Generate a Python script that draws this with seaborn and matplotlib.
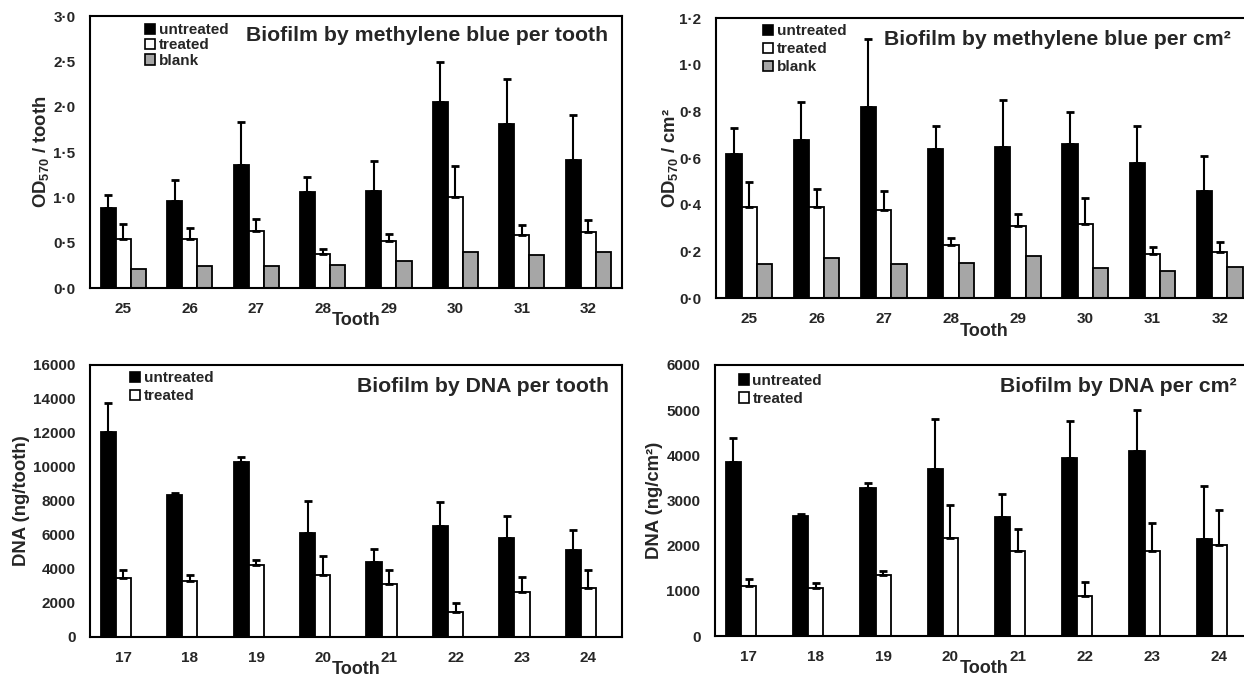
import numpy as np
import pandas as pd
import seaborn as sns
import matplotlib.pyplot as plt
import matplotlib.patches as mpatches
from matplotlib.ticker import FuncFormatter, MultipleLocator

# --- datos ---
teeth_mb = [25, 26, 27, 28, 29, 30, 31, 32]
teeth_dna = [17, 18, 19, 20, 21, 22, 23, 24]

# azul de metileno por diente (OD570 / tooth)
mb_tooth_untreated = [0.88, 0.96, 1.36, 1.06, 1.07, 2.05, 1.81, 1.41]
mb_tooth_untreated_sd = [0.15, 0.23, 0.47, 0.16, 0.33, 0.44, 0.50, 0.50]
mb_tooth_treated = [0.54, 0.54, 0.63, 0.38, 0.52, 1.00, 0.59, 0.62]
mb_tooth_treated_sd = [0.17, 0.12, 0.13, 0.05, 0.08, 0.35, 0.11, 0.13]
mb_tooth_blank = [0.21, 0.24, 0.24, 0.25, 0.30, 0.40, 0.36, 0.40]

# azul de metileno por cm2
mb_cm2_untreated = [0.62, 0.68, 0.82, 0.64, 0.65, 0.66, 0.58, 0.46]
mb_cm2_untreated_sd = [0.11, 0.16, 0.29, 0.10, 0.20, 0.14, 0.16, 0.15]
mb_cm2_treated = [0.39, 0.39, 0.38, 0.23, 0.31, 0.32, 0.19, 0.20]
mb_cm2_treated_sd = [0.11, 0.08, 0.08, 0.03, 0.05, 0.11, 0.03, 0.04]
mb_cm2_blank = [0.147, 0.171, 0.147, 0.150, 0.180, 0.130, 0.117, 0.133]

# ADN por diente (ng/tooth)
dna_tooth_untreated = [12070, 8340, 10290, 6130, 4380, 6540, 5790, 5120]
dna_tooth_untreated_sd = [1690, 120, 310, 1860, 800, 1370, 1340, 1140]
dna_tooth_treated = [3480, 3280, 4240, 3610, 3120, 1470, 2650, 2870]
dna_tooth_treated_sd = [450, 330, 280, 1160, 810, 490, 880, 1080]

# ADN por cm2 (ng/cm2)
dna_cm2_untreated = [3850, 2660, 3280, 3690, 2640, 3930, 4090, 2140]
dna_cm2_untreated_sd = [540, 50, 100, 1110, 500, 830, 920, 1170]
dna_cm2_treated = [1110, 1060, 1350, 2180, 1880, 890, 1880, 2020]
dna_cm2_treated_sd = [150, 110, 100, 710, 490, 300, 620, 780]

niveles = ['untreated', 'treated', 'blank']
colores = {'untreated': 'black', 'treated': 'white', 'blank': '#a6a6a6'}

sns.set_theme(style="white")
plt.rcParams['font.family'] = ['Liberation Sans', 'DejaVu Sans']
plt.rcParams['font.weight'] = 'bold'
plt.rcParams['mathtext.default'] = 'regular'
plt.rcParams['axes.edgecolor'] = 'black'


def tabla_larga(teeth, series):
    filas = []
    for cond, vals in series.items():
        for t, v in zip(teeth, vals):
            filas.append({'Tooth': str(t), 'cond': cond, 'valor': v})
    return pd.DataFrame(filas)


def punto_medio(v, pos):
    return f"{v:.1f}".replace('.', '\u00b7')


def panel(ax, teeth, series, errores, titulo, ylabel, ymax, ystep, decimal,
          titulo_xy, leyenda_xy, leyenda_sp, ylab_x):
    df = tabla_larga(teeth, series)
    sns.barplot(data=df, x='Tooth', y='valor', hue='cond', hue_order=niveles,
                order=[str(t) for t in teeth], palette=colores, saturation=1,
                edgecolor='black', linewidth=1.3, width=0.68, errorbar=None,
                legend=False, ax=ax)

    presentes = [n for n in niveles if n in series]
    for cont, cond in zip(ax.containers, presentes):
        if cond not in errores:
            continue
        xs, hs, sd = [], [], []
        for b in cont:
            xc = b.get_x() + b.get_width() / 2
            xs.append(xc)
            hs.append(b.get_height())
            sd.append(errores[cond][int(round(xc))])
        ax.errorbar(xs, hs, yerr=[np.zeros(len(hs)), sd], fmt='none',
                    ecolor='black', elinewidth=1.5, capsize=3, capthick=2,
                    zorder=3)

    ax.set_xlim(-0.5, 7.5)
    ax.set_ylim(0, ymax)
    ax.yaxis.set_major_locator(MultipleLocator(ystep))
    if decimal:
        ax.yaxis.set_major_formatter(FuncFormatter(punto_medio))
    ax.tick_params(axis='both', length=0, labelsize=11)
    ax.tick_params(axis='y', pad=10.5)
    ax.tick_params(axis='x', pad=10)
    for s in ax.spines.values():
        s.set_visible(True)
        s.set_color('black')
        s.set_linewidth(1.5)

    ax.set_xlabel('Tooth', fontsize=13, fontweight='bold', labelpad=-2.5)
    ax.set_ylabel(ylabel, fontsize=13.3, fontweight='bold', va='center')
    ax.yaxis.set_label_coords(ylab_x, 0.5)

    ax.text(titulo_xy[0], titulo_xy[1], titulo, transform=ax.transAxes,
            ha='right', va='center', fontsize=15.3, fontweight='bold')

    handles = [mpatches.Patch(facecolor=colores[n], edgecolor='black', lw=1.2)
               for n in presentes]
    ax.legend(handles, presentes, loc='upper left', bbox_to_anchor=leyenda_xy,
              bbox_transform=ax.transAxes, frameon=False, fontsize=11,
              handlelength=0.65, handleheight=0.65, handletextpad=0.25,
              borderpad=0, borderaxespad=0, labelspacing=leyenda_sp)


W, H = 1244, 677
fig = plt.figure(figsize=(W / 100, H / 100), dpi=100)


def ejes(x0, y0, x1, y1):
    return fig.add_axes([x0 / W, 1 - y1 / H, (x1 - x0) / W, (y1 - y0) / H])


ax_tl = ejes(90, 16, 621.5, 288)
ax_tr = ejes(715.7, 18.3, 1253.3, 298.3)
ax_bl = ejes(90, 365, 621.7, 636.7)
ax_br = ejes(715, 365, 1253, 636)

panel(ax_tl, teeth_mb,
      {'untreated': mb_tooth_untreated, 'treated': mb_tooth_treated, 'blank': mb_tooth_blank},
      {'untreated': mb_tooth_untreated_sd, 'treated': mb_tooth_treated_sd},
      'Biofilm by methylene blue per tooth', 'OD$_{570}$ / tooth',
      3.0, 0.5, True, (0.974, 0.93), (0.1035, 0.974), 0.09, -0.0913)

panel(ax_tr, teeth_mb,
      {'untreated': mb_cm2_untreated, 'treated': mb_cm2_treated, 'blank': mb_cm2_blank},
      {'untreated': mb_cm2_untreated_sd, 'treated': mb_cm2_treated_sd},
      'Biofilm by methylene blue per cm\u00b2', 'OD$_{570}$ / cm\u00b2',
      1.2, 0.2, True, (0.959, 0.925), (0.088, 0.978), 0.25, -0.0843)

panel(ax_bl, teeth_dna,
      {'untreated': dna_tooth_untreated, 'treated': dna_tooth_treated},
      {'untreated': dna_tooth_untreated_sd, 'treated': dna_tooth_treated_sd},
      'Biofilm by DNA per tooth', 'DNA (ng/tooth)',
      16000, 2000, False, (0.9755, 0.92), (0.075, 0.977), 0.27, -0.1285)

panel(ax_br, teeth_dna,
      {'untreated': dna_cm2_untreated, 'treated': dna_cm2_treated},
      {'untreated': dna_cm2_untreated_sd, 'treated': dna_cm2_treated_sd},
      'Biofilm by DNA per cm\u00b2', 'DNA (ng/cm\u00b2)',
      6000, 1000, False, (0.9695, 0.92), (0.044, 0.967), 0.26, -0.112)

fig.savefig('out.png', dpi=100)
